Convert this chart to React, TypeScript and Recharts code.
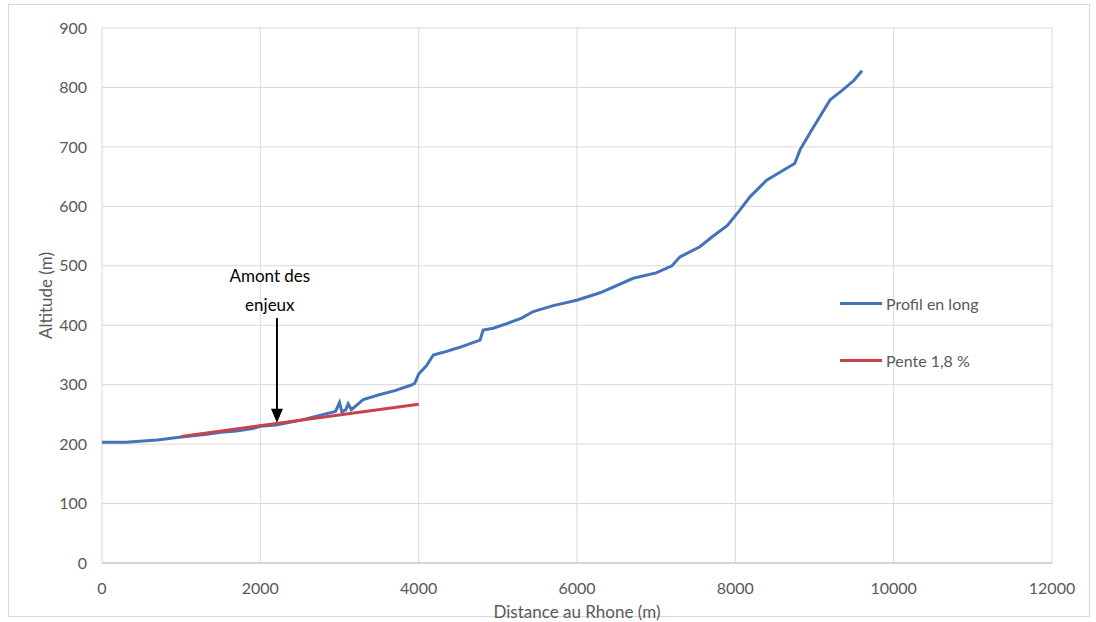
import React from 'react';
import {
  LineChart, Line, XAxis, YAxis, CartesianGrid, ReferenceLine, ReferenceDot,
} from 'recharts';

/* Profil en long – distance au Rhône (m) / altitude (m) */
const profilDist = [
  0, 300, 700, 1000, 1300, 1500, 1700, 1900, 2000, 2200, 2500, 2800, 2950, 3000, 3030,
  3080, 3110, 3150, 3300, 3500, 3700, 3900, 3950, 4000, 4100, 4185, 4300, 4500, 4775,
  4815, 4940, 5100, 5300, 5447, 5700, 5996, 6300, 6710, 7000, 7200, 7300, 7450, 7553,
  7700, 7900, 8059, 8185, 8396, 8648, 8750, 8817, 8950, 9069, 9196, 9350, 9500, 9600,
];
const profilAlt = [
  203, 203, 207, 212, 216, 220, 222, 226, 230, 232, 240, 250, 255, 270, 254,
  258, 268, 258, 275, 283, 290, 299, 302, 318, 332, 350, 354, 362, 375,
  392, 395, 402, 412, 423, 433, 442, 455, 479, 488, 500, 515, 525, 532,
  548, 568, 594, 616, 644, 664, 672, 695, 725, 751, 779, 795, 812, 828,
];

/* Pente 1,8 % */
const penteDist = [1000, 4000];
const penteAlt = [213, 267];

const xTicks = [0, 2000, 4000, 6000, 8000, 10000, 12000];
const yTicks = [0, 100, 200, 300, 400, 500, 600, 700, 800, 900];

const profil = profilDist.map((d, i) => ({ dist: d, alt: profilAlt[i] }));
const pente = penteDist.map((d, i) => ({ dist: d, alt: penteAlt[i] }));

const C = {
  blue: '#4473BA',
  red: '#C8424C',
  grid: '#D9D9D9',
  axis: '#BFBFBF',
  text: '#595959',
};

const FONT = "Lato, 'Open Sans', sans-serif";
const tick = { fill: C.text, fontSize: 16, fontFamily: FONT };

function Arrow(props: any) {
  const { x1, y1, x2, y2 } = props;
  return (
    <g>
      <line x1={x1} y1={y1} x2={x2} y2={y2 - 12} stroke="#000" strokeWidth={2} />
      <path d={`M${x2 - 6},${y2 - 14} L${x2 + 6},${y2 - 14} L${x2},${y2} Z`} fill="#000" />
    </g>
  );
}

const legendItems = [
  { label: 'Profil en long', color: C.blue },
  { label: 'Pente 1,8 %', color: C.red },
];

export default function App() {
  return (
    <div style={{ position: 'absolute', left: 0, top: 0, width: 1096, height: 622, background: '#fff' }}>
      <div style={{ position: 'absolute', left: 8, top: 4, width: 1080, height: 611, border: '1px solid #D9D9D9' }} />
      <LineChart width={1096} height={622} margin={{ top: 28, right: 44, bottom: 0, left: 0 }}>
        <CartesianGrid stroke={C.grid} />
        <XAxis
          type="number"
          dataKey="dist"
          domain={[0, 12000]}
          ticks={xTicks}
          height={59}
          tick={tick}
          tickLine={false}
          axisLine={{ stroke: C.axis }}
          tickMargin={14}
          label={{ value: 'Distance au Rhone (m)', position: 'insideBottom', offset: 4, fill: C.text, fontSize: 17, fontFamily: FONT }}
        />
        <YAxis
          type="number"
          dataKey="alt"
          domain={[0, 900]}
          ticks={yTicks}
          width={102}
          tick={tick}
          tickLine={false}
          axisLine={false}
          tickMargin={9}
          label={{ value: 'Altitude (m)', angle: -90, position: 'insideLeft', offset: 46, fill: C.text, fontSize: 17, fontFamily: FONT, style: { textAnchor: 'middle' } }}
        />
        <Line data={profil} dataKey="alt" name="Profil en long" stroke={C.blue} strokeWidth={3} dot={false} type="linear" isAnimationActive={false} />
        <Line data={pente} dataKey="alt" name="Pente 1,8 %" stroke={C.red} strokeWidth={3} dot={false} type="linear" isAnimationActive={false} />
        <ReferenceLine segment={[{ x: 2210, y: 412 }, { x: 2210, y: 236 }]} shape={<Arrow />} />
        <ReferenceDot x={2120} y={483} r={0} stroke="none" label={{ value: 'Amont des', position: 'center', fill: '#000', fontSize: 17, fontFamily: FONT }} />
        <ReferenceDot x={2120} y={434} r={0} stroke="none" label={{ value: 'enjeux', position: 'center', fill: '#000', fontSize: 17, fontFamily: FONT }} />
      </LineChart>
      <div style={{ position: 'absolute', left: 840, top: 288, fontFamily: FONT, fontSize: 16, color: C.text }}>
        {legendItems.map((it) => (
          <div key={it.label} style={{ display: 'flex', alignItems: 'center', height: 30, marginBottom: 27 }}>
            <span style={{ width: 42, height: 3, background: it.color, display: 'inline-block', marginRight: 4 }} />
            {it.label}
          </div>
        ))}
      </div>
    </div>
  );
}
